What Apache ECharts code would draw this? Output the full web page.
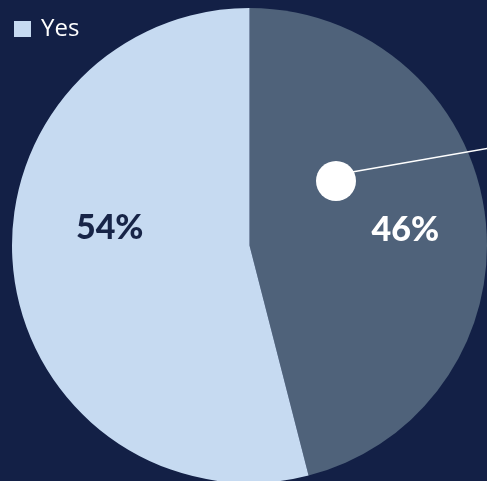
<!DOCTYPE html>
<html><head><meta charset="utf-8">
<script src="https://cdn.jsdelivr.net/npm/echarts@6/dist/echarts.min.js"></script>
<style>html,body{margin:0;padding:0;background:#132046;}#c{width:487px;height:481px;}</style>
</head><body><div id="c"></div>
<script>
const categories = ['No', 'Yes'];
const values = [46, 54];
const legendItems = ['Yes'];
const sliceColors = ['#4f627a', '#c6daf1'];
const labelColors = ['#ffffff', '#172447'];

const chart = echarts.init(document.getElementById('c'));
const labelShift = [[35, 0], [-19, -33]];
chart.setOption({
  backgroundColor: '#132046',
  animation: false,
  legend: {
    data: legendItems, left: 14, top: 17, padding: 0, icon: 'rect', itemWidth: 17, itemHeight: 16,
    itemGap: 10,
    textStyle: { color: '#ffffff', fontSize: 24, fontFamily: 'Open Sans', padding: [0, 0, 0, 5] }
  },
  series: [{
    type: 'pie', center: [249.5, 245.5], radius: [0, 237.5], startAngle: 90, clockwise: true,
    silent: true,
    data: categories.map((c, i) => ({
      name: c, value: values[i],
      itemStyle: { color: sliceColors[i] },
      label: { color: labelColors[i] }
    })),
    label: {
      show: true, position: 'inside', formatter: '{c}%',
      fontFamily: 'Lato', fontWeight: 900, fontSize: 34
    },
    labelLayout: p => ({ dx: labelShift[p.dataIndex][0], dy: labelShift[p.dataIndex][1] }),
    labelLine: { show: false }
  }],
  graphic: [
    { type: 'line', z: 100, shape: { x1: 352, y1: 172, x2: 490, y2: 148 }, style: { stroke: '#ffffff', lineWidth: 1.5 } },
    { type: 'circle', z: 101, shape: { cx: 336, cy: 181, r: 20 }, style: { fill: '#ffffff' } }
  ]
});
</script></body></html>
